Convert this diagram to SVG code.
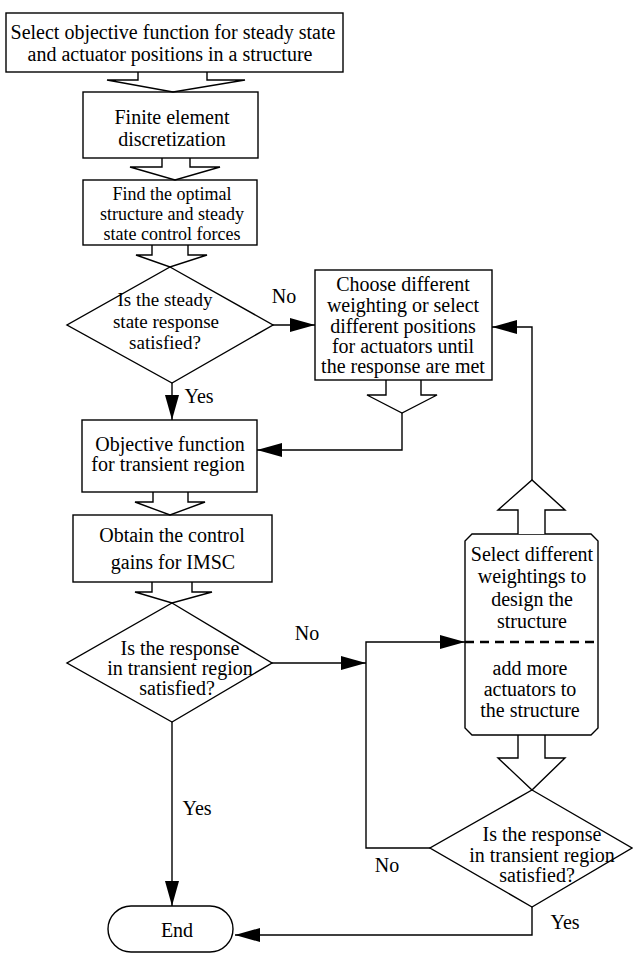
<svg xmlns="http://www.w3.org/2000/svg" width="633" height="955" viewBox="0 0 633 955">
<style>
.b{fill:#fff;stroke:#000;stroke-width:1.4}
.c{fill:none;stroke:#000;stroke-width:1.4}
text{font-family:"Liberation Serif","Times New Roman",serif;font-size:20px;fill:#000;text-anchor:middle}
.s{font-size:19px}
.t{font-size:18px}
</style>
<defs>
<marker id="ah" markerUnits="userSpaceOnUse" markerWidth="26" markerHeight="14" refX="25" refY="7" orient="auto">
<path d="M0,0 L25,7 L0,14 z" fill="#000"/>
</marker>
</defs>
<rect width="633" height="955" fill="#fff"/>

<g id="n1">
<rect class="b" x="6" y="13" width="337" height="59"/>
<text x="173" y="39">Select objective function for steady state</text>
<text x="170" y="61">and actuator positions in a structure</text>
</g>
<g id="n2">
<rect class="b" x="83" y="92" width="175" height="66"/>
<text x="172" y="124">Finite element</text>
<text x="172" y="146">discretization</text>
</g>
<g id="n3">
<rect class="b" x="83" y="180" width="174" height="65"/>
<text class="t" x="172" y="200">Find the optimal</text>
<text class="t" x="172" y="220">structure and steady</text>
<text class="t" x="172" y="240">state control forces</text>
</g>
<g id="d1">
<polygon class="b" points="170,267 273,325 172,383 67,325"/>
<text class="s" x="165" y="306">Is the steady</text>
<text class="s" x="166" y="327.5">state response</text>
<text class="s" x="165" y="349">satisfied?</text>
</g>
<g id="n4">
<rect class="b" x="315" y="270" width="177" height="110"/>
<text x="403" y="291">Choose different</text>
<text x="403" y="312">weighting or select</text>
<text x="403" y="333">different positions</text>
<text x="403" y="353">for actuators until</text>
<text x="403" y="373">the response are met</text>
</g>
<g id="n5">
<rect class="b" x="82" y="420" width="175" height="72"/>
<text x="170" y="451">Objective function</text>
<text x="168" y="471">for transient region</text>
</g>
<g id="n6">
<rect class="b" x="73" y="515" width="199" height="67"/>
<text x="172" y="542">Obtain the control</text>
<text x="173" y="569">gains for IMSC</text>
</g>
<g id="d2">
<polygon class="b" points="172,603 272,663 172,722 67,663"/>
<text x="180" y="655">Is the response</text>
<text x="180" y="675">in transient region</text>
<text x="177" y="695">satisfied?</text>
</g>
<g id="n7">
<path class="b" d="M472,534 H591 L598,541 V728 L591,735 H472 L465,728 V541 Z"/>
<line x1="465" y1="642" x2="598" y2="642" stroke="#000" stroke-width="2.4" stroke-dasharray="9 6"/>
<text x="532" y="561">Select different</text>
<text x="532" y="583">weightings to</text>
<text x="532" y="606">design the</text>
<text x="532" y="628">structure</text>
<text x="530" y="675">add more</text>
<text x="530" y="696">actuators to</text>
<text x="530" y="717">the structure</text>
</g>
<g id="d3">
<polygon class="b" points="532,790 632,848 532,907 430,848"/>
<text x="542" y="841">Is the response</text>
<text x="542" y="862">in transient region</text>
<text x="537" y="882">satisfied?</text>
</g>
<g id="end">
<rect class="b" x="108" y="906" width="125" height="46" rx="23" ry="23"/>
<text x="177" y="937">End</text>
</g>

<g id="connectors">
<polyline class="c" points="138,72 138,80 107,80 173,92 245,80 207,80 207,72"/>
<polyline class="c" points="162,158 162,167 130,167 175,180 220,167 190,167 190,158"/>
<polyline class="c" points="152,245 152,255 136,255 170,267 207,255 188,255 188,245"/>
<polyline class="c" points="386,380 386,395 367,395 402,413 437,395 421,395 421,380"/>
<polyline class="c" points="153,492 153,502 135,502 170,515 205,502 188,502 188,492"/>
<polyline class="c" points="152,582 152,592 135,592 172,603 212,592 192,592 192,582"/>
<polyline class="b" points="518,534 518,510 498,510 532,480 565,510 545,510 545,534"/>
<polyline class="c" points="518,735 518,758 498,758 532,790 565,758 545,758 545,735"/>

<path class="c" d="M273,325 H315" marker-end="url(#ah)"/>
<path class="c" d="M172,383 V420" marker-end="url(#ah)"/>
<path class="c" d="M532,480 V327 H492" marker-end="url(#ah)"/>
<path class="c" d="M402,413 V450 H257" marker-end="url(#ah)"/>
<path class="c" d="M272,663 H366" marker-end="url(#ah)"/>
<path class="c" d="M430,848 H366 V642 H465" marker-end="url(#ah)"/>
<path class="c" d="M172,722 V906" marker-end="url(#ah)"/>
<path class="c" d="M532,907 V935 H235" marker-end="url(#ah)"/>

<text x="284" y="303">No</text>
<text x="199" y="403">Yes</text>
<text x="307" y="640">No</text>
<text x="197" y="815">Yes</text>
<text x="387" y="872">No</text>
<text x="565" y="929">Yes</text>
</g>
</svg>
